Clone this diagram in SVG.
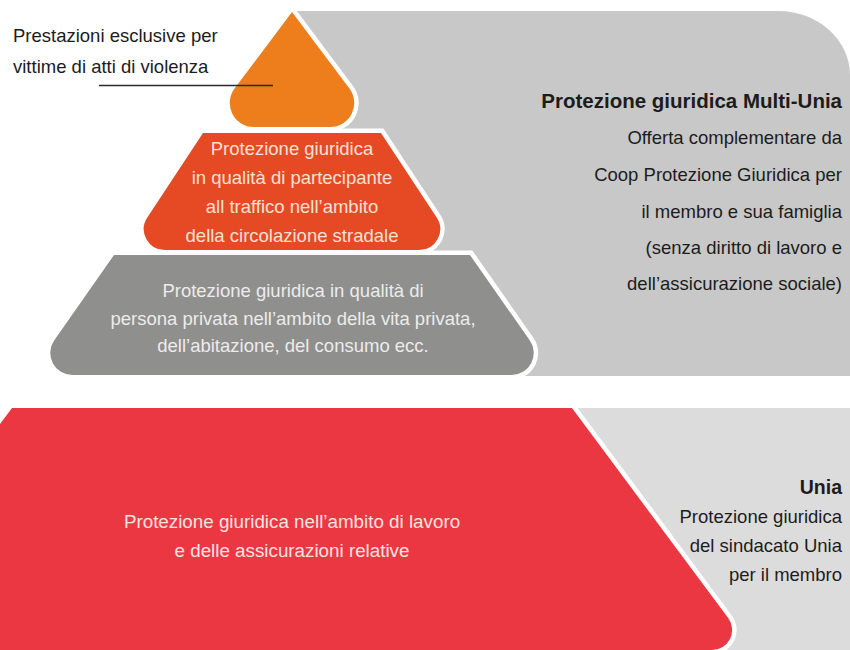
<svg xmlns="http://www.w3.org/2000/svg" width="850" height="650" viewBox="0 0 850 650">
  <style>
    .t { font-family: "Liberation Sans", Arial, sans-serif; font-size: 18.5px; }
    .dark { fill: #1c1c1c; }
    .b { font-weight: bold; font-size: 19.5px; }
    .title { font-size: 20.5px; }
    .layer { stroke: #ffffff; stroke-width: 9; paint-order: stroke; stroke-linejoin: miter; }
    .mid { text-anchor: middle; }
    .end { text-anchor: end; }
  </style>
  <rect width="850" height="650" fill="#ffffff"/>

  <!-- backgrounds -->
  <g id="bg-multi">
    <path d="M 292 11 H 778 A 72 64 0 0 1 850 75 V 376 H 292 Z" fill="#c8c8c8"/>
  </g>
  <g id="bg-unia">
    <rect x="450" y="408" width="400" height="242" fill="#dcdcdc"/>
  </g>

  <!-- pyramid layers -->
  <g id="layer-gray">
    <path class="layer" d="M 114 255 H 470 L 529.7 340.35 A 22 22 0 0 1 511.7 375 H 72.3 A 22 22 0 0 1 54.3 340.35 Z" fill="#8f8f8d"/>
    <text class="t mid" fill="#ececec" x="293" y="297">Protezione giuridica in qualità di</text>
    <text class="t mid" fill="#ececec" x="293" y="325">persona privata nell’ambito della vita privata,</text>
    <text class="t mid" fill="#ececec" x="293" y="352">dell’abitazione, del consumo ecc.</text>
  </g>
  <g id="layer-red">
    <path class="layer" d="M 203 133 H 381 L 436.7 217.4 A 21 21 0 0 1 419.2 250 H 164.8 A 21 21 0 0 1 147.3 217.4 Z" fill="#e64a24"/>
    <text class="t mid" fill="#fbe0d6" x="292" y="155">Protezione giuridica</text>
    <text class="t mid" fill="#fbe0d6" x="292" y="184">in qualità di partecipante</text>
    <text class="t mid" fill="#fbe0d6" x="292" y="213">all traffico nell’ambito</text>
    <text class="t mid" fill="#fbe0d6" x="292" y="242">della circolazione stradale</text>
  </g>
  <g id="layer-orange">
    <path class="layer" d="M 292 12 L 349.45 88.6 A 24 24 0 0 1 330.25 127 H 253.75 A 24 24 0 0 1 234.55 88.6 Z" fill="#ee7e1b"/>
  </g>

  <g id="bottom-red">
    <path class="layer" d="M 12 408 H 572 L 728.2 618.1 A 20 20 0 0 1 712.2 650 H -170 Z" fill="#eb3742"/>
    <text class="t mid" fill="#fde3e3" x="292" y="528" style="font-size:18.8px">Protezione giuridica nell’ambito di lavoro</text>
    <text class="t mid" fill="#fde3e3" x="292" y="557" style="font-size:18.8px">e delle assicurazioni relative</text>
  </g>

  <!-- labels -->
  <g id="label-violence">
    <text class="t dark" x="13" y="42">Prestazioni esclusive per</text>
    <text class="t dark" x="13" y="73">vittime di atti di violenza</text>
  </g>
  <g id="connectors">
    <line x1="99" y1="85.5" x2="273" y2="85.5" stroke="#2a2a2a" stroke-width="1.3"/>
  </g>
  <g id="label-multi">
    <text class="t dark b title end" x="842" y="108">Protezione giuridica Multi-Unia</text>
    <text class="t dark end" x="842" y="144">Offerta complementare da</text>
    <text class="t dark end" x="842" y="181">Coop Protezione Giuridica per</text>
    <text class="t dark end" x="842" y="218">il membro e sua famiglia</text>
    <text class="t dark end" x="842" y="254">(senza diritto di lavoro e</text>
    <text class="t dark end" x="842" y="290">dell’assicurazione sociale)</text>
  </g>
  <g id="label-unia">
    <text class="t dark b end" x="842" y="494">Unia</text>
    <text class="t dark end" x="842" y="523">Protezione giuridica</text>
    <text class="t dark end" x="842" y="552">del sindacato Unia</text>
    <text class="t dark end" x="842" y="581">per il membro</text>
  </g>
</svg>
